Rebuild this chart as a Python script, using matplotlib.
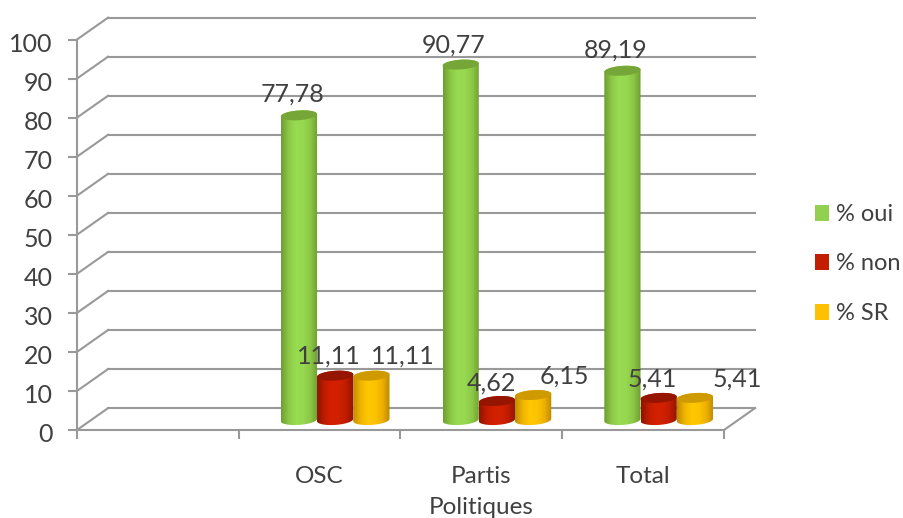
import matplotlib
matplotlib.use('Agg')
import matplotlib.pyplot as plt
import numpy as np
from matplotlib.colors import LinearSegmentedColormap
from matplotlib.patches import Patch, PathPatch
from matplotlib.path import Path
from matplotlib.transforms import ScaledTranslation

plt.rcParams['font.family'] = ['Lato', 'DejaVu Sans']

# values
categories = ['OSC', 'Partis\nPolitiques', 'Total']
series_names = ['% oui', '% non', '% SR']
oui = [77.78, 90.77, 89.19]
non = [11.11, 4.62, 5.41]
sr = [11.11, 6.15, 5.41]
labels_oui = ['77,78', '90,77', '89,19']
labels_non = ['11,11', '4,62', '5,41']
labels_sr = ['11,11', '6,15', '5,41']
y_ticks = list(range(0, 101, 10))

# label offsets from the top of each cylinder, in pixels
offsets_oui = [(-6, 21), (-7, 20), (-7, 21)]
offsets_non = [(-6, 20), (-5, 18), (-6, 19)]
offsets_sr = [(31, 20), (31, 19), (42, 19)]

text_color = '#404040'
line_color = '#999999'
legend_colors = ['#92D050', '#C41E00', '#FFC000']
body_colors = [
    ['#6f9e30', '#8cc846', '#98dc52', '#96d850', '#8cc846', '#6f9e30'],
    ['#8e1400', '#c01c00', '#d42000', '#d02000', '#bd1c00', '#8e1400'],
    ['#c08c00', '#f0b400', '#ffc800', '#fcc400', '#eeb000', '#bc8a00'],
]
top_colors = ['#76a637', '#951500', '#cf9a00']

# depth of the fake 3d box, in data units
DEPTH_X = 0.192
DEPTH_Y = 5.6
BAR_W = 0.224
RY = 1.25
TILT = 0.3

fig = plt.figure(figsize=(9.04, 5.18), dpi=100)
ax = fig.add_axes([77 / 904, (518 - 430) / 518, (724 - 77) / 904, (430 - 39.5) / 518])


def ellipse_pts(cx, cy, t):
    return cx + BAR_W / 2 * np.cos(t), cy + RY * np.sin(t) + TILT * np.cos(t)


def cylinder(cx, value, colors, top_color, z):
    y0 = DEPTH_Y / 2 - 0.25
    y1 = value + DEPTH_Y / 2
    xb, yb = ellipse_pts(cx, y0, np.linspace(np.pi, 2 * np.pi, 40))
    xt, yt = ellipse_pts(cx, y1, np.linspace(0, np.pi, 40))
    verts = np.column_stack([np.r_[xb, xt], np.r_[yb, yt]])
    verts = np.vstack([verts, verts[0]])
    clip = PathPatch(Path(verts), transform=ax.transData, fc='none', ec='none')
    ax.add_patch(clip)

    cmap = LinearSegmentedColormap.from_list('cyl', colors)
    grad = np.linspace(0, 1, 64).reshape(1, -1)
    im = ax.imshow(grad, cmap=cmap, aspect='auto', zorder=z,
                   extent=(cx - BAR_W / 2, cx + BAR_W / 2, y0 - 3, y1 + 3))
    im.set_clip_path(clip)

    xe, ye = ellipse_pts(cx, y1, np.linspace(0, 2 * np.pi, 60))
    ax.fill(xe, ye, color=top_color, lw=0, zorder=z + 0.1)


# back wall, side wall and floor
for v in y_ticks:
    ax.plot([0, DEPTH_X], [v, v + DEPTH_Y], color=line_color, lw=1.5, clip_on=False, zorder=1)
    ax.plot([DEPTH_X, 4 + DEPTH_X], [v + DEPTH_Y, v + DEPTH_Y], color=line_color, lw=1.5,
            clip_on=False, zorder=1)
ax.plot([4, 4 + DEPTH_X], [0, DEPTH_Y], color=line_color, lw=1.5, clip_on=False, zorder=1)

# cylinders, left to right so each one overlaps the previous
x_pos = np.arange(len(categories)) + 1.5
all_series = [oui, non, sr]
all_labels = [labels_oui, labels_non, labels_sr]
all_offsets = [offsets_oui, offsets_non, offsets_sr]
for i, values in enumerate(all_series):
    for j, v in enumerate(values):
        cx = x_pos[j] + (i - 1) * BAR_W + DEPTH_X / 2
        cylinder(cx, v, body_colors[i], top_colors[i], 3 + i)
        ax.annotate(all_labels[i][j], xy=(cx, v + DEPTH_Y / 2), xytext=all_offsets[i][j],
                    textcoords='offset pixels', ha='center', va='center',
                    fontsize=18, color=text_color, zorder=10, annotation_clip=False)

ax.set_xlim(0, 4)
ax.set_ylim(0, 100)
ax.set_yticks(y_ticks)
ax.set_xticks([0, 1, 2, 3, 4])
ax.set_xticklabels([])
ax.set_xticks(x_pos, minor=True)
ax.set_xticklabels(categories, minor=True, fontsize=17.5, color=text_color, linespacing=1.6)
ax.tick_params(axis='x', which='minor', length=0, pad=26)
ax.tick_params(axis='both', which='major', length=6.5, width=1.5, color=line_color)
ax.tick_params(axis='y', labelsize=18, labelcolor=text_color, pad=11)
shift = ScaledTranslation(0, -3 / 100, fig.dpi_scale_trans)
for label in ax.get_yticklabels():
    label.set_transform(label.get_transform() + shift)
for side in ['top', 'right']:
    ax.spines[side].set_visible(False)
for side in ['left', 'bottom']:
    ax.spines[side].set_color(line_color)
    ax.spines[side].set_linewidth(1.5)
ax.patch.set_alpha(0)

handles = [Patch(color=c, lw=0) for c in legend_colors]
fig.legend(handles, series_names, loc='center left', bbox_to_anchor=(815 / 904, (518 - 264) / 518),
           frameon=False, fontsize=17, labelcolor=text_color, labelspacing=1.2,
           handlelength=0.6, handleheight=0.66, handletextpad=0.3,
           borderpad=0, borderaxespad=0)

fig.savefig('out.png', dpi=100)
